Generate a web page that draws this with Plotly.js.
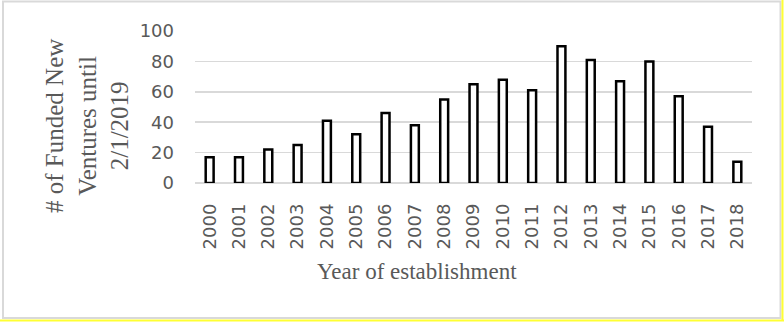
<!DOCTYPE html>
<html>
<head>
<meta charset="utf-8">
<script src="https://cdn.plot.ly/plotly-3.0.1.min.js"></script>
<style>
  html, body { margin: 0; padding: 0; background: #ffffff; }
  #chart { width: 784px; height: 322px; }
</style>
</head>
<body>
<div id="chart"></div>
<script>
const years = ["2000","2001","2002","2003","2004","2005","2006","2007","2008","2009",
               "2010","2011","2012","2013","2014","2015","2016","2017","2018"];
const ventures = [17, 17, 22, 25, 41, 32, 46, 38, 55, 65, 68, 61, 90, 81, 67, 80, 57, 37, 14];
const yTickVals = [0, 20, 40, 60, 80, 100];
const yTitleLines = ["# of Funded New", "Ventures until", "2/1/2019"];
const xTitle = "Year of establishment";

const M = {l: 195, r: 32, t: 31, b: 139};
const W = 784 - M.l - M.r, H = 322 - M.t - M.b;
const px = x => (x - M.l) / W;
const py = y => (322 - M.b - y) / H;

const gray = "#595959";
const trace = {
  type: "bar",
  x: years,
  y: ventures,
  width: 0.27,
  marker: { color: "#ffffff", line: { color: "#000000", width: 2.5 } },
  hoverinfo: "x+y"
};

const layout = {
  width: 784, height: 322,
  margin: M,
  paper_bgcolor: "#ffffff",
  plot_bgcolor: "#ffffff",
  showlegend: false,
  xaxis: {
    type: "category",
    tickangle: -90,
    tickfont: { family: "DejaVu Sans", size: 18, color: gray },
    showgrid: false,
    showline: false,
    zeroline: false,
    ticks: "",
    ticklabelstandoff: 16
  },
  yaxis: {
    range: [0, 100],
    tickvals: yTickVals,
    tickfont: { family: "DejaVu Sans", size: 18, color: gray },
    showgrid: true,
    gridcolor: "#d9d9d9",
    gridwidth: 1.5,
    zeroline: true,
    zerolinecolor: "#d9d9d9",
    zerolinewidth: 1.5,
    showline: false,
    ticks: "",
    ticklabelstandoff: 20
  },
  annotations: [
    {
      xref: "paper", yref: "paper",
      x: px(87), y: py(126),
      xanchor: "center", yanchor: "middle",
      textangle: -90,
      showarrow: false,
      text: yTitleLines.join("<br>"),
      font: { family: "Liberation Serif", size: 25, color: gray }
    },
    {
      xref: "paper", yref: "paper",
      x: px(416.7), y: py(271),
      xanchor: "center", yanchor: "middle",
      showarrow: false,
      text: xTitle,
      font: { family: "Liberation Serif", size: 23, color: gray }
    }
  ],
  shapes: [
    { type: "rect", xref: "paper", yref: "paper", layer: "below",
      x0: px(3), x1: px(780.5), y0: py(318), y1: py(1.5),
      line: { color: "#d9d9d9", width: 2 }, fillcolor: "rgba(0,0,0,0)" },
    { type: "line", xref: "paper", yref: "paper",
      x0: px(782.5), x1: px(782.5), y0: py(321), y1: py(0),
      line: { color: "#ffff33", width: 2 } },
    { type: "line", xref: "paper", yref: "paper",
      x0: px(0), x1: px(784), y0: py(320.5), y1: py(320.5),
      line: { color: "#ffff33", width: 2 } }
  ]
};

Plotly.newPlot("chart", [trace], layout, { displayModeBar: false, staticPlot: true });
</script>
</body>
</html>
